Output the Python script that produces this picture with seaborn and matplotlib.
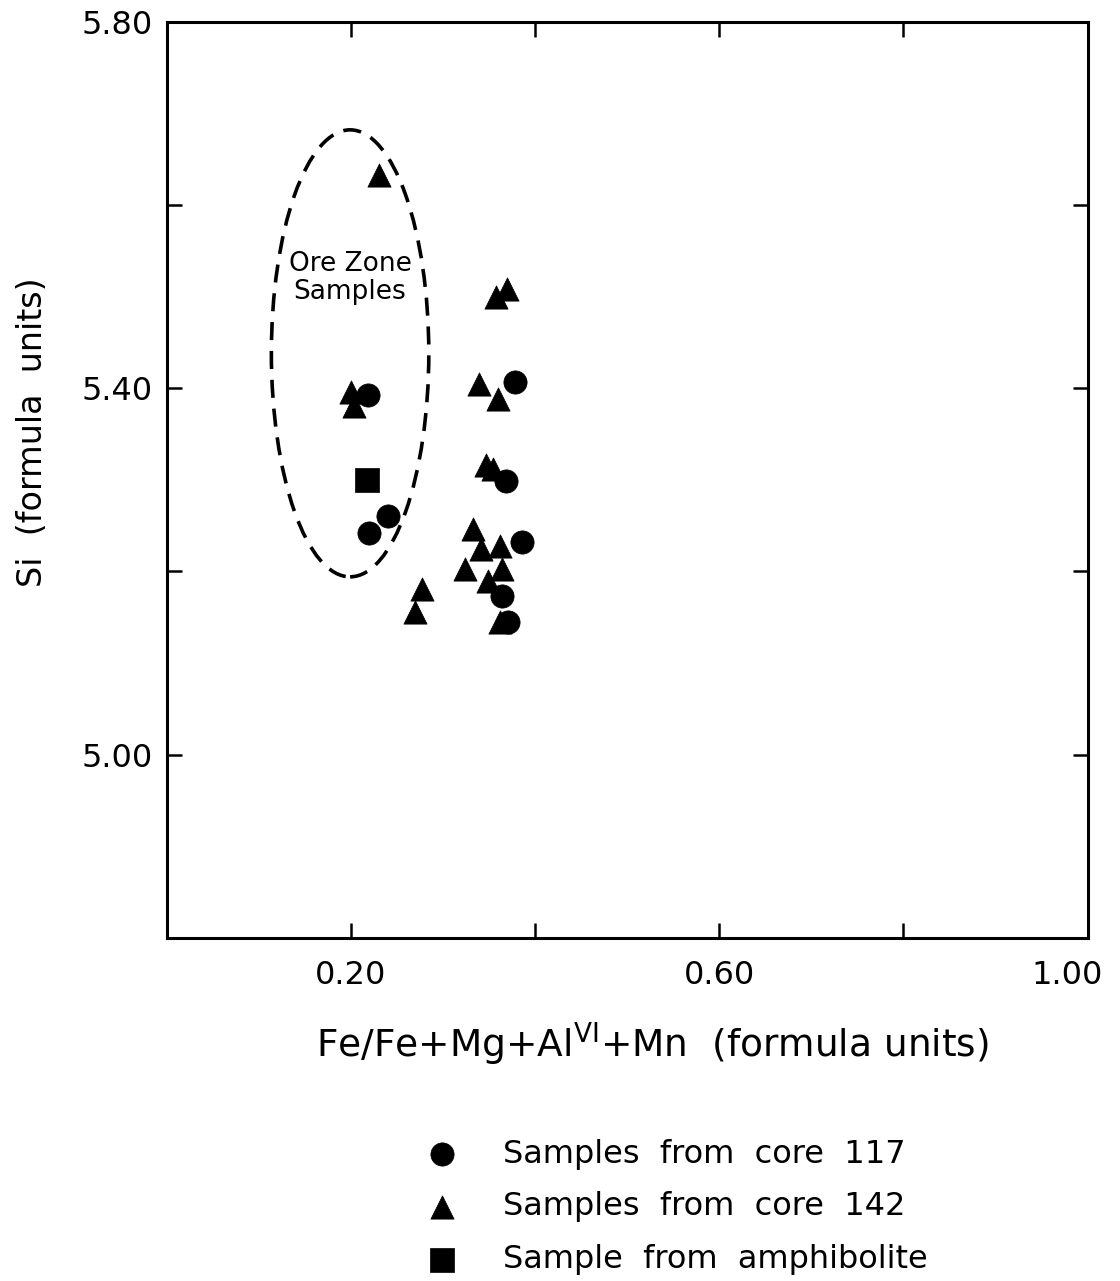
import pandas as pd
import matplotlib
matplotlib.use("Agg")
import matplotlib.pyplot as plt
import matplotlib.transforms as mtransforms
from matplotlib.patches import Ellipse
import seaborn as sns

# Values
core117_x = [0.218, 0.378, 0.368, 0.240, 0.219, 0.386, 0.364, 0.371]
core117_y = [5.393, 5.407, 5.299, 5.260, 5.242, 5.232, 5.173, 5.145]

core142_x = [0.230, 0.357, 0.369, 0.200, 0.203, 0.339, 0.360, 0.347, 0.354,
             0.333, 0.341, 0.362, 0.324, 0.364, 0.349, 0.277, 0.270, 0.362]
core142_y = [5.633, 5.499, 5.508, 5.396, 5.380, 5.405, 5.388, 5.316, 5.312,
             5.246, 5.224, 5.228, 5.203, 5.203, 5.189, 5.181, 5.156, 5.145]

amph_x = [0.217]
amph_y = [5.300]

groups = ["Samples  from  core  117", "Samples  from  core  142", "Sample  from  amphibolite"]

x_ticks = [0.2, 0.4, 0.6, 0.8, 1.0]
x_ticklabels = ["0.20", "", "0.60", "", "1.00"]
y_ticks = [5.0, 5.2, 5.4, 5.6, 5.8]
y_ticklabels = ["5.00", "", "5.40", "", "5.80"]

df = pd.concat([
    pd.DataFrame({"x": core117_x, "y": core117_y, "group": groups[0]}),
    pd.DataFrame({"x": core142_x, "y": core142_y, "group": groups[1]}),
    pd.DataFrame({"x": amph_x, "y": amph_y, "group": groups[2]}),
])

sns.set_style("ticks")
plt.rcParams["font.family"] = ["DejaVu Sans"]
plt.rcParams.update({"text.color": "black", "axes.labelcolor": "black",
                     "xtick.color": "black", "ytick.color": "black",
                     "axes.edgecolor": "black"})

fig = plt.figure(figsize=(11.2, 12.81), dpi=100)
ax = fig.add_axes([0.149, 0.268, 0.822, 0.715])

markers = {groups[0]: "o", groups[1]: "^", groups[2]: "s"}
sizes = {groups[0]: 290, groups[1]: 380, groups[2]: 280}
for g in groups:
    sub = df[df["group"] == g]
    sns.scatterplot(data=sub, x="x", y="y", marker=markers[g], s=sizes[g],
                    color="black", edgecolor="black", linewidth=0.5,
                    label=g, ax=ax, zorder=3)

# Ore zone outline
ax.add_patch(Ellipse((0.199, 5.438), 0.171, 0.488, fill=False, edgecolor="black",
                     linewidth=2.6, linestyle=(0, (5, 3))))
ax.text(0.199, 5.52, "Ore Zone\nSamples", ha="center", va="center",
        fontsize=19, linespacing=1.1)

ax.set_xlim(0.0, 1.0)
ax.set_ylim(4.8, 5.8)
ax.set_xticks(x_ticks)
ax.set_xticklabels(x_ticklabels)
ax.set_yticks(y_ticks)
ax.set_yticklabels(y_ticklabels)
ax.tick_params(direction="in", length=11, width=1.8, top=True, right=True,
               labelsize=23)
ax.tick_params(axis="x", pad=16)
ax.tick_params(axis="y", pad=10)
for sp in ax.spines.values():
    sp.set_linewidth(2.2)

# keep the last x label inside the figure
last = ax.get_xticklabels()[-1]
last.set_transform(last.get_transform() +
                   mtransforms.ScaledTranslation(-0.2, 0, fig.dpi_scale_trans))

ax.set_xlabel(r"Fe/Fe+Mg+Al$^{\mathrm{VI}}$+Mn  (formula units)", fontsize=27)
ax.xaxis.set_label_coords(0.527, -0.09)
ax.set_ylabel("Si  (formula  units)", fontsize=24)
ax.yaxis.set_label_coords(-0.128, 0.552)

handles, labels = ax.get_legend_handles_labels()
ax.legend_.remove()
for h in handles:
    h.set_sizes([280])
fig.legend(handles, labels, loc="upper left", bbox_to_anchor=(0.355, 0.121),
           frameon=False, fontsize=23, labelspacing=0.68, handletextpad=0.9,
           borderaxespad=0)

fig.savefig("out.png", dpi=100)
